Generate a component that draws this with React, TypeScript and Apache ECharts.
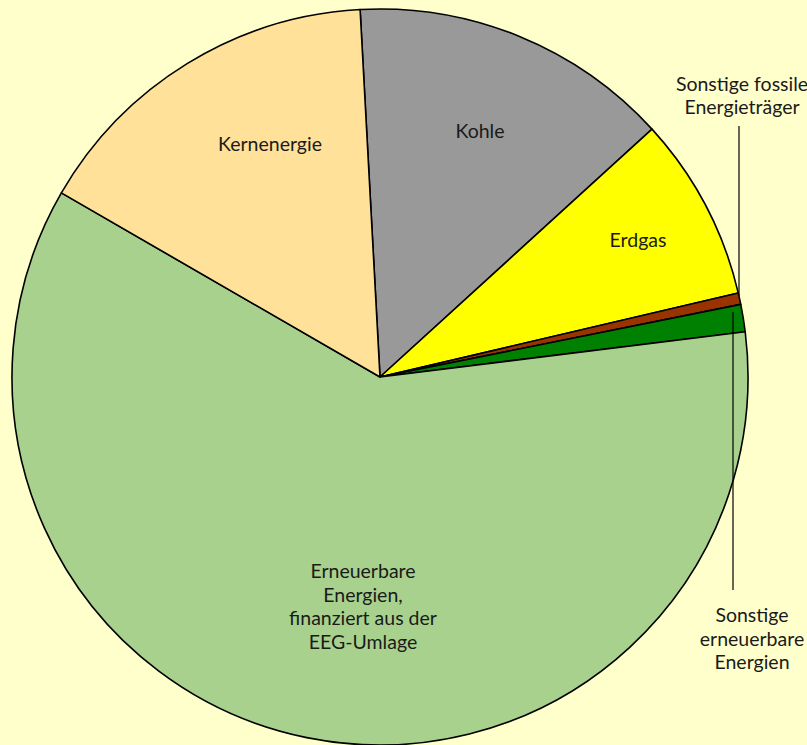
import React, { useEffect, useRef } from "react";
import * as echarts from "echarts";

const categories = [
  "Kohle",
  "Erdgas",
  "Sonstige fossile\nEnergieträger",
  "Sonstige\nerneuerbare\nEnergien",
  "Erneuerbare\nEnergien,\nfinanziert aus der\nEEG-Umlage",
  "Kernenergie",
];
const values = [14.1, 8.1, 0.5, 1.2, 60.3, 15.8];
const colors = ["#999999", "#FFFF00", "#993300", "#008000", "#A8D18D", "#FFE199"];

// label anchor positions (pixels) for each slice's text
const labelPos: [number, number][] = [
  [480, 130],
  [638, 239],
  [742, 95],
  [752, 638],
  [363, 606],
  [270, 143],
];

export default function App() {
  const ref = useRef<HTMLDivElement>(null);
  useEffect(() => {
    if (!ref.current) return;
    const chart = echarts.init(ref.current, undefined, { renderer: "svg" });
    chart.setOption({
      animation: false,
      backgroundColor: "#FFFFCC",
      graphic: [
        {
          type: "line",
          shape: { x1: 739, y1: 126, x2: 739, y2: 296 },
          style: { stroke: "#000", lineWidth: 1.2 },
          z: 10,
        },
        {
          type: "line",
          shape: { x1: 733, y1: 312, x2: 733, y2: 590 },
          style: { stroke: "#000", lineWidth: 1.2 },
          z: 10,
        },
      ],
      series: [
        {
          type: "pie",
          center: [380, 377],
          radius: [0, 368],
          startAngle: 93.1,
          clockwise: true,
          avoidLabelOverlap: false,
          itemStyle: { borderColor: "#000", borderWidth: 1.6 },
          emphasis: { disabled: true },
          label: {
            show: true,
            position: "inside",
            color: "#1a1a1a",
            fontFamily: "Lato",
            fontSize: 19.5,
            lineHeight: 23.5,
            align: "center",
            formatter: (p: any) => p.name,
          },
          labelLine: { show: false },
          labelLayout: (p: any) => {
            const pos = labelPos[p.dataIndex];
            return {
              x: pos[0],
              y: pos[1],
              align: "center",
              verticalAlign: "middle",
            };
          },
          data: categories.map((name, i) => ({
            name,
            value: values[i],
            itemStyle: { color: colors[i] },
          })),
        },
      ],
    });
    return () => chart.dispose();
  }, []);
  return (
    <div
      ref={ref}
      style={{ position: "fixed", left: 0, top: 0, width: 807, height: 745 }}
    />
  );
}
